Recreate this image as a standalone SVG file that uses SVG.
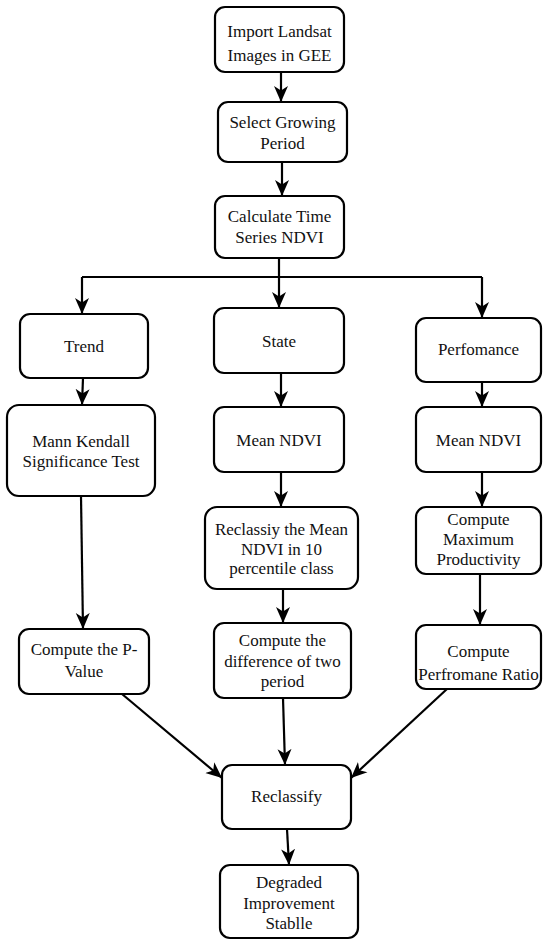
<svg xmlns="http://www.w3.org/2000/svg" width="543" height="940" viewBox="0 0 543 940">
<style>
.box{fill:#fff;stroke:#000;stroke-width:2.2}
.lbl{font-family:'Liberation Serif','Times New Roman','DejaVu Serif',serif;font-size:17px;fill:#111;text-anchor:middle}
.edge{fill:none;stroke:#000;stroke-width:2.2}
.arr{marker-end:url(#ah)}
</style>
<defs>
<marker id="ah" viewBox="0 0 16 16" refX="16" refY="8" markerWidth="16" markerHeight="16" markerUnits="userSpaceOnUse" orient="auto">
<path d="M0,1 L16,8 L0,15 L4.5,8 z" fill="#000"/>
</marker>
</defs>
<rect width="543" height="940" fill="#fff"/>
<g id="connectors">
<path class="edge arr" d="M281,72 L281,102"/>
<path class="edge arr" d="M282,162 L282,196"/>
<path class="edge" d="M279,258 L279,277 M82,277 L482,277"/>
<path class="edge arr" d="M82,277 L82,314"/>
<path class="edge arr" d="M279,277 L279,308"/>
<path class="edge arr" d="M482,277 L482,318"/>
<path class="edge arr" d="M83,378 L82,405"/>
<path class="edge arr" d="M281,373 L281,407"/>
<path class="edge arr" d="M482,382 L482,407"/>
<path class="edge arr" d="M281,472 L281,507"/>
<path class="edge arr" d="M482,472 L482,507"/>
<path class="edge arr" d="M81,496 L83,629"/>
<path class="edge arr" d="M283,589 L283,623"/>
<path class="edge arr" d="M480,574 L480,625"/>
<path class="edge arr" d="M122,694 L222,778"/>
<path class="edge arr" d="M283,698 L285,765"/>
<path class="edge arr" d="M447,689 L351,778"/>
<path class="edge arr" d="M287,829 L289,865"/>
</g>
<g id="n1"><rect class="box" x="215" y="7" width="129" height="65" rx="10"/><text class="lbl" x="279.5" y="37">Import Landsat</text><text class="lbl" x="279.5" y="61">Images in GEE</text></g>
<g id="n2"><rect class="box" x="218" y="102" width="129" height="60" rx="10"/><text class="lbl" x="282.5" y="128">Select Growing</text><text class="lbl" x="282.5" y="149">Period</text></g>
<g id="n3"><rect class="box" x="215" y="196" width="129" height="62" rx="10"/><text class="lbl" x="279.5" y="222">Calculate Time</text><text class="lbl" x="279.5" y="243">Series NDVI</text></g>
<g id="trend"><rect class="box" x="20" y="314" width="128" height="64" rx="10"/><text class="lbl" x="84" y="352">Trend</text></g>
<g id="state"><rect class="box" x="214" y="308" width="130" height="65" rx="10"/><text class="lbl" x="279" y="347">State</text></g>
<g id="perf"><rect class="box" x="416" y="318" width="125" height="64" rx="10"/><text class="lbl" x="478.5" y="355">Perfomance</text></g>
<g id="mann"><rect class="box" x="7" y="405" width="148" height="91" rx="12"/><text class="lbl" x="81" y="447">Mann Kendall</text><text class="lbl" x="81" y="467">Significance Test</text></g>
<g id="mean1"><rect class="box" x="214" y="407" width="130" height="65" rx="10"/><text class="lbl" x="279" y="446">Mean NDVI</text></g>
<g id="mean2"><rect class="box" x="416" y="407" width="125" height="65" rx="10"/><text class="lbl" x="478.5" y="446">Mean NDVI</text></g>
<g id="reclassiy"><rect class="box" x="205" y="507" width="153" height="82" rx="12"/><text class="lbl" x="281.5" y="535">Reclassiy the Mean</text><text class="lbl" x="281.5" y="555">NDVI in 10</text><text class="lbl" x="281.5" y="574">percentile class</text></g>
<g id="maxprod"><rect class="box" x="416" y="507" width="125" height="67" rx="10"/><text class="lbl" x="478.5" y="525">Compute</text><text class="lbl" x="478.5" y="545">Maximum</text><text class="lbl" x="478.5" y="565">Productivity</text></g>
<g id="pvalue"><rect class="box" x="19" y="629" width="130" height="65" rx="10"/><text class="lbl" x="84" y="655">Compute the P-</text><text class="lbl" x="84" y="677">Value</text></g>
<g id="diff"><rect class="box" x="214" y="623" width="137" height="75" rx="10"/><text class="lbl" x="282.5" y="646">Compute the</text><text class="lbl" x="282.5" y="667">difference of two</text><text class="lbl" x="282.5" y="687">period</text></g>
<g id="ratio"><rect class="box" x="416" y="625" width="125" height="64" rx="10"/><text class="lbl" x="478.5" y="657">Compute</text><text class="lbl" x="478.5" y="680">Perfromane Ratio</text></g>
<g id="reclassify"><rect class="box" x="222" y="765" width="129" height="64" rx="10"/><text class="lbl" x="286.5" y="802">Reclassify</text></g>
<g id="result"><rect class="box" x="220" y="865" width="138" height="73" rx="10"/><text class="lbl" x="289" y="888">Degraded</text><text class="lbl" x="289" y="909">Improvement</text><text class="lbl" x="289" y="929">Stablle</text></g>
</svg>
